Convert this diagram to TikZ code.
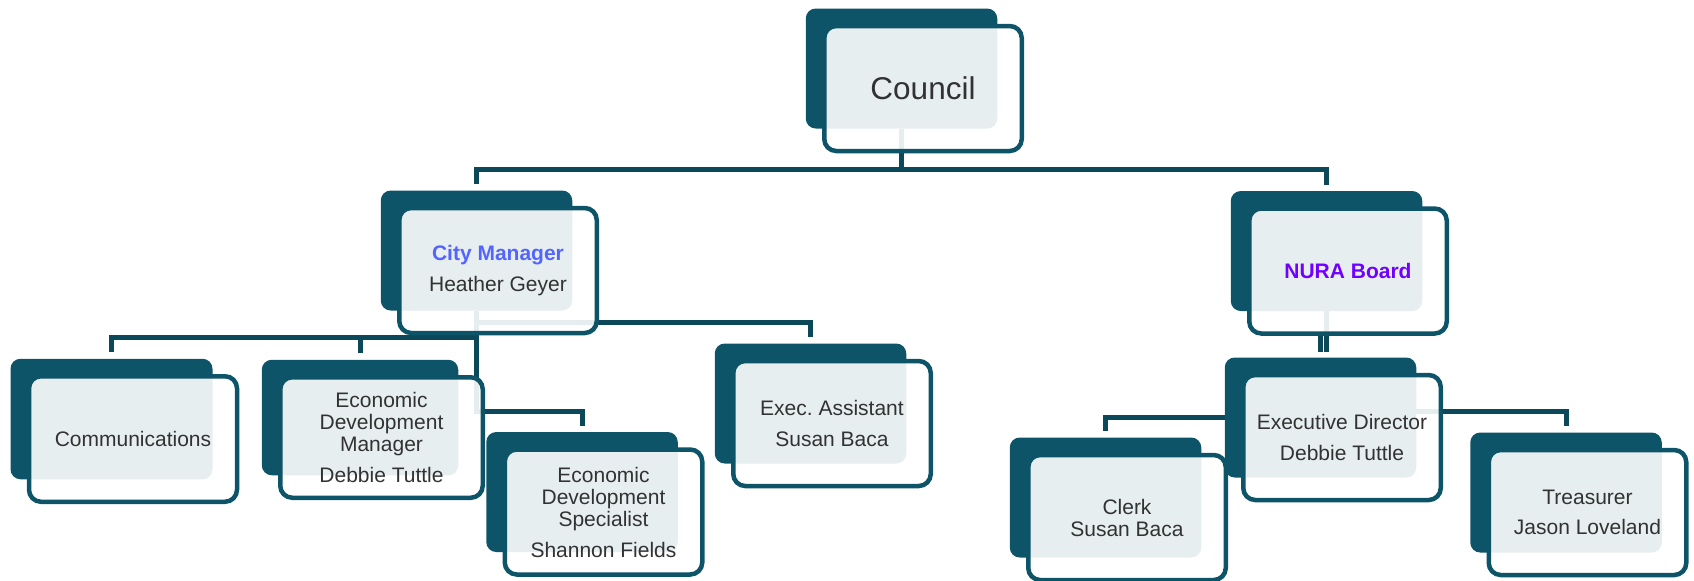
\documentclass[tikz,border=0pt]{standalone}
\usepackage{fontspec}
\setmainfont{Liberation Sans}
\usepackage{tikz}
\usetikzlibrary{calc, positioning}
\usepackage{xcolor}

\definecolor{orgteal}{RGB}{14,84,104}
\definecolor{linkteal}{RGB}{10,72,90}
\definecolor{ink}{RGB}{50,50,50}
\definecolor{cmblue}{RGB}{84,101,255}
\definecolor{nurapurple}{RGB}{112,0,255}

\pgfdeclarelayer{back}
\pgfsetlayers{back,main}

\tikzset{
  box/.style={draw=orgteal, line width=2.25pt, rounded corners=6pt,
    fill=white, fill opacity=0.9, text opacity=1, text=ink,
    minimum width=98.75pt, minimum height=62.5pt, inner sep=0pt, outer sep=0pt,
    align=center, font=\fontsize{10.5}{11}\selectfont},
  back/.style={fill=orgteal, rounded corners=5pt, inner sep=0pt, outer sep=0pt},
  link/.style={draw=linkteal, line width=2.5pt, shorten >=3.25pt}
}

\begin{document}
\begin{tikzpicture}[x=0.5pt, y=-0.5pt]
\useasboundingbox (0,0) rectangle (1694,580);

\node (council) [box, font=\fontsize{15.75}{18}\selectfont] at (923,88.5) {Council};
\node (cm) [box] at (498,270.5) {\textcolor{cmblue}{\textbf{City Manager}}\\[4.5pt]Heather Geyer};
\node (nura) [box] at (1348,271) {\textcolor{nurapurple}{\textbf{NURA Board}}};

\node (comm) [box, minimum width=104pt, minimum height=62.75pt] at (133,439) {Communications};
\node (edm) [box, minimum width=101.25pt, minimum height=60.25pt] at (381.5,437.5) {Economic\\Development\\Manager\\[4.5pt]Debbie Tuttle};
\node (eds) [box] at (603.5,512) {Economic\\Development\\Specialist\\[4.5pt]Shannon Fields};
\node (ea) [box] at (832,423.5) {Exec.\ Assistant\\[4.5pt]Susan Baca};

\node (ed) [box] at (1342,437.5) {Executive Director\\[4.5pt]Debbie Tuttle};
\node (clerk) [box] at (1127,517.5) {Clerk\\Susan Baca};
\node (tr) [box] at (1587.5,512.5) {Treasurer\\[4pt]Jason Loveland};

\begin{pgfonlayer}{back}
\foreach \b in {council,cm,nura,comm,edm,eds,ea,ed,clerk,tr}
  \path let \p1=($(\b.north east)-(\b.south west)$) in
    node (\b-back) [back, minimum width=\x1-3pt, minimum height=\y1-2.5pt] at ($(\b)+(-21.5,-20)$) {};

\draw[link] (council-back.south) -- ++(0,41) -| (cm-back.north);
\draw[link] (council-back.south) -- ++(0,41) -| (nura-back.north);

\draw[link] (cm-back.south) -- ++(0,12) -| (ea-back.north);
\draw[link] (cm-back.south) -- ++(0,27) -| (comm-back.north);
\draw[link] (cm-back.south) -- ++(0,27) -| (edm-back.north);
\draw[link] (cm-back.south) -- ++(0,101) -| (eds-back.north);

\draw[link, shorten >=2.75pt] (nura-back.south) -- (nura-back.south |- ed-back.north);
\draw[link, shorten >=0pt, shorten <=2.75pt] (ed-back.north) -- (ed-back.north |- nura.south);
\draw[link] (ed-back.west) -| (clerk-back.north);
\draw[link] ($(ed-back.east)+(0,-6.5)$) -| (tr-back.north);
\end{pgfonlayer}
\end{tikzpicture}
\end{document}
